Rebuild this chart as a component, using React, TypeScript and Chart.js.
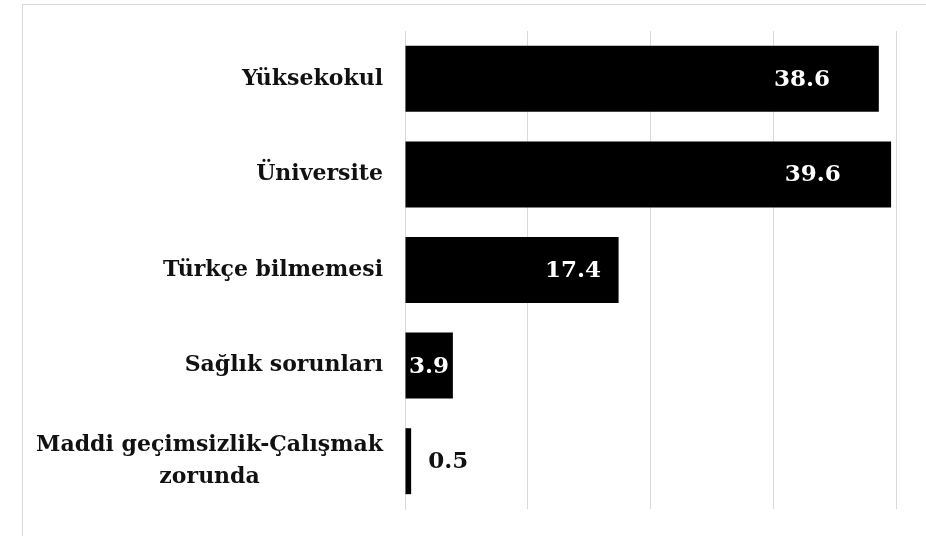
import React, { useEffect, useRef } from "react";
import { Chart, registerables } from "chart.js";

Chart.register(...registerables);

const categories: (string | string[])[] = [
  "Yüksekokul",
  "Üniversite",
  "Türkçe bilmemesi",
  "Sağlık sorunları",
  ["Maddi geçimsizlik-Çalışmak", "zorunda"],
];
const values: number[] = [38.6, 39.6, 17.4, 3.9, 0.5];
const axisMin = 0;
const axisMax = 40;
const axisStep = 10;

const SERIF = "'DejaVu Serif', serif";

const labelsPlugin = {
  id: "customLabels",
  afterDatasetsDraw(chart: any) {
    const { ctx } = chart;
    const yScale = chart.scales.y;
    const xScale = chart.scales.x;
    const meta = chart.getDatasetMeta(0);
    ctx.save();
    // category labels
    ctx.font = `bold 22px ${SERIF}`;
    ctx.fillStyle = "#111111";
    ctx.textBaseline = "middle";
    const labelRight = xScale.left - 22;
    const lineH = 32;
    categories.forEach((c, i) => {
      const y = yScale.getPixelForValue(i);
      const lines = Array.isArray(c) ? c : [c];
      const firstW = ctx.measureText(lines[0]).width;
      const firstCenter = labelRight - firstW / 2;
      const y0 = y - ((lines.length - 1) * lineH) / 2;
      lines.forEach((ln, k) => {
        if (k === 0) {
          ctx.textAlign = "right";
          ctx.fillText(ln, labelRight, y0);
        } else {
          ctx.textAlign = "center";
          ctx.fillText(ln, firstCenter, y0 + k * lineH);
        }
      });
    });
    // value labels
    ctx.font = `bold 23px ${SERIF}`;
    meta.data.forEach((bar: any, i: number) => {
      const v = values[i];
      const x0 = xScale.getPixelForValue(0);
      const x1 = bar.x;
      const w = x1 - x0;
      const txt = v.toFixed(1);
      if (w > 100) {
        ctx.fillStyle = "#ffffff";
        ctx.textAlign = "center";
        ctx.fillText(txt, x1 - 20 - w * 0.12, bar.y + 1);
      } else if (w > 30) {
        ctx.fillStyle = "#ffffff";
        ctx.textAlign = "center";
        ctx.fillText(txt, x0 + w / 2, bar.y + 1);
      } else {
        ctx.fillStyle = "#111111";
        ctx.textAlign = "left";
        ctx.fillText(txt, x1 + 17, bar.y + 1);
      }
    });
    ctx.restore();
  },
};

export default function App() {
  const ref = useRef<HTMLCanvasElement | null>(null);
  useEffect(() => {
    document.body.style.margin = "0";
    if (!ref.current) return;
    const chart = new Chart(ref.current, {
      type: "bar",
      data: {
        labels: categories as any,
        datasets: [
          {
            data: values,
            backgroundColor: "#000000",
            borderWidth: 0,
            barPercentage: 0.69,
            categoryPercentage: 1,
          },
        ],
      },
      options: {
        indexAxis: "y",
        animation: false,
        responsive: false,
        layout: { padding: { left: 0, right: 30, top: 31, bottom: 27 } },
        plugins: {
          legend: { display: false },
          tooltip: { enabled: false },
        },
        scales: {
          x: {
            min: axisMin,
            max: axisMax,
            ticks: { display: false, stepSize: axisStep },
            grid: { color: "#d9d9d9", lineWidth: 1, drawTicks: false },
            border: { display: false },
          },
          y: {
            ticks: { display: false },
            grid: { display: false },
            border: { display: true, color: "#d9d9d9" },
            afterFit: (scale: any) => {
              scale.width = 405;
            },
          },
        },
      },
      plugins: [labelsPlugin],
    });
    return () => chart.destroy();
  }, []);
  return (
    <div style={{ position: "relative", width: 926, height: 536, background: "#fff" }}>
      <div
        style={{
          position: "absolute",
          left: 22,
          top: 4,
          right: 0,
          bottom: 0,
          borderLeft: "1px solid #d9d9d9",
          borderTop: "1px solid #d9d9d9",
        }}
      />
      <canvas ref={ref} width={926} height={536} style={{ position: "absolute", left: 0, top: 0 }} />
    </div>
  );
}
